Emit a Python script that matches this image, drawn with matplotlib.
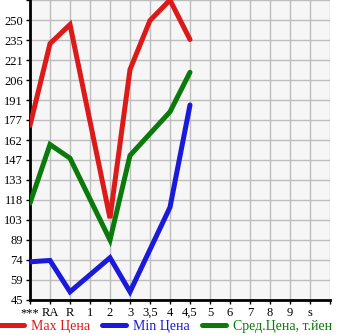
import numpy as np
import matplotlib
matplotlib.use("Agg")
import matplotlib.pyplot as plt
from matplotlib.lines import Line2D

# categories along x
categories = ["***", "RA", "R", "1", "2", "3", "3,5", "4", "4,5", "5", "6", "7", "8", "9", "s"]

# prices (NaN = no data)
max_price = [173, 233, 247, np.nan, 105, 214, 250, 265, 236, np.nan, np.nan, np.nan, np.nan, np.nan, np.nan]
min_price = [73, 74, 51, np.nan, 76, 51, 82, 113, 188, np.nan, np.nan, np.nan, np.nan, np.nan, np.nan]
avg_price = [116, 159, 149, np.nan, 89, 151, 167, 183, 212, np.nan, np.nan, np.nan, np.nan, np.nan, np.nan]

ymin, ymax = 45, 265
yticks = np.linspace(ymin, ymax, 16)

fig = plt.figure(figsize=(3.45, 3.35), dpi=100)
ax = fig.add_axes([30/345, 35/335, 300/345, 300/335])
ax.set_facecolor("#f6f6f6")

series = [(max_price, "#dd1a1a", "Max Цена"),
          (min_price, "#1a1ad8", "Min Цена"),
          (avg_price, "#0a7a0a", "Сред.Цена, т.йен")]

x = np.arange(len(categories))
for vals, col, lab in series:
    v = np.array(vals, dtype=float)
    m = ~np.isnan(v)
    ax.plot(x[m], v[m], color=col, lw=3.6, solid_capstyle="round", solid_joinstyle="miter", zorder=3)

ax.set_xlim(0, 15)
ax.set_ylim(ymin, ymax)
ax.set_xticks(np.arange(16))
ax.set_xticklabels(categories + [""], fontsize=9, family="Liberation Serif")
ax.set_yticks(yticks)
ax.set_yticklabels([str(int(t)) for t in yticks[:-1]] + [""], fontsize=9, family="Liberation Serif")
ax.grid(True, color="#bdbdbd", lw=1)
ax.set_axisbelow(True)
ax.tick_params(length=3, width=1, pad=2)
for s in ["top", "right"]:
    ax.spines[s].set_visible(False)
for s in ["left", "bottom"]:
    ax.spines[s].set_linewidth(2)

handles = [Line2D([], [], color=c, lw=3.6, solid_capstyle="round") for _, c, _ in series]
leg = fig.legend(handles, [l for _, _, l in series], loc="lower left", bbox_to_anchor=(0.0, 0.006),
                 ncol=3, frameon=False, handlelength=1.7, handletextpad=0.5, columnspacing=0.9,
                 borderpad=0.0, borderaxespad=0.0,
                 prop={"family": "Liberation Serif", "size": 10})
for t, (_, c, _) in zip(leg.get_texts(), series):
    t.set_color(c)

fig.savefig("out.png", dpi=100)
